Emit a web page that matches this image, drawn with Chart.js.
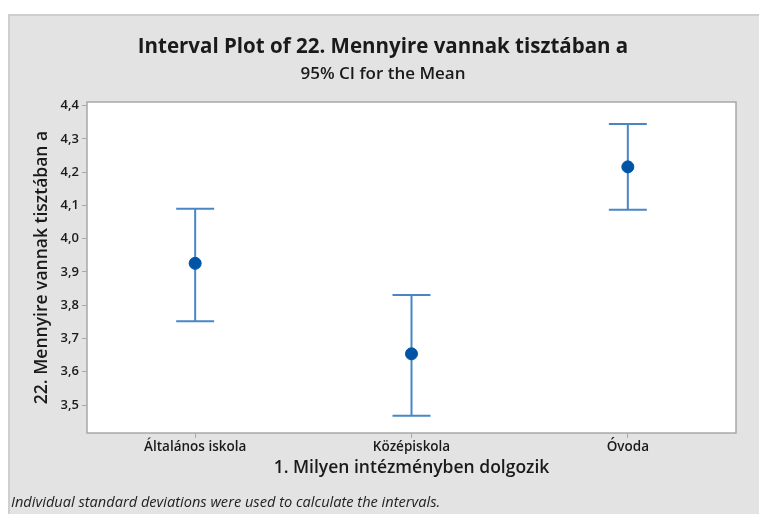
<!DOCTYPE html>
<html>
<head>
<meta charset="utf-8">
<script src="https://cdn.jsdelivr.net/npm/chart.js@4.4.0/dist/chart.umd.min.js"></script>
<style>
  html, body { margin: 0; padding: 0; background: #fff; }
  #wrap {
    position: absolute; left: 8px; top: 14px;
    width: 751px; height: 500px;
    background: #e3e3e3;
    border-left: 2px solid #cfcfcf; border-top: 2px solid #cfcfcf;
    box-sizing: border-box;
  }
  canvas { display: block; }
</style>
</head>
<body>
<div id="wrap"><canvas id="c" width="749" height="498"></canvas></div>
<script>
const categories = ["Általános iskola", "Középiskola", "Óvoda"];
const means = [3.926, 3.654, 4.216];
const lower = [3.752, 3.468, 4.087];
const upper = [4.090, 3.831, 4.345];
const yTicks = [3.5, 3.6, 3.7, 3.8, 3.9, 4.0, 4.1, 4.2, 4.3, 4.4];
const yTickLabels = ["3,5", "3,6", "3,7", "3,8", "3,9", "4,0", "4,1", "4,2", "4,3", "4,4"];
const footnote = "Individual standard deviations were used to calculate the intervals.";

const FONT = "'Open Sans', 'Noto Sans', sans-serif";
const lineColor = "#4a86c5";
const dotColor = "#0054a6";

// white plot area + frame + interval whiskers
const intervalPlugin = {
  id: "intervals",
  beforeDraw(chart) {
    const { ctx, chartArea: a } = chart;
    ctx.save();
    ctx.fillStyle = "#ffffff";
    ctx.fillRect(a.left, a.top, a.right - a.left, a.bottom - a.top);
    ctx.restore();
  },
  beforeDatasetsDraw(chart) {
    const { ctx, scales } = chart;
    const x = scales.x, y = scales.y;
    ctx.save();
    ctx.strokeStyle = lineColor;
    ctx.lineWidth = 2;
    const cap = 19;
    categories.forEach((c, i) => {
      const px = x.getPixelForValue(i);
      const yl = y.getPixelForValue(lower[i]);
      const yu = y.getPixelForValue(upper[i]);
      ctx.beginPath();
      ctx.moveTo(px, yl); ctx.lineTo(px, yu);
      ctx.moveTo(px - cap, yu); ctx.lineTo(px + cap, yu);
      ctx.moveTo(px - cap, yl); ctx.lineTo(px + cap, yl);
      ctx.stroke();
    });
    ctx.restore();
  },
  afterDraw(chart) {
    const { ctx, chartArea: a } = chart;
    ctx.save();
    ctx.strokeStyle = "#a8a8a8";
    ctx.lineWidth = 1.5;
    ctx.strokeRect(a.left, a.top, a.right - a.left, a.bottom - a.top);
    ctx.fillStyle = "#222";
    ctx.font = "italic 14.6px " + FONT;
    ctx.textBaseline = "middle";
    ctx.textAlign = "left";
    ctx.fillText(footnote, 1, 487);
    ctx.restore();
  }
};

new Chart(document.getElementById("c"), {
  type: "scatter",
  data: {
    datasets: [{
      data: means.map((m, i) => ({ x: i, y: m })),
      pointRadius: 6,
      pointHoverRadius: 6,
      pointBackgroundColor: dotColor,
      pointBorderColor: dotColor,
      showLine: false
    }]
  },
  options: {
    responsive: false,
    animation: false,
    events: [],
    layout: { padding: { left: 20, right: 23, top: 0, bottom: 29 } },
    plugins: {
      legend: { display: false },
      tooltip: { enabled: false },
      title: {
        display: true,
        text: "Interval Plot of 22. Mennyire vannak tisztában a",
        color: "#1a1a1a",
        font: { family: FONT, size: 20.5, weight: "bold" },
        padding: { top: 19, bottom: 0 }
      },
      subtitle: {
        display: true,
        text: "95% CI for the Mean",
        color: "#1a1a1a",
        font: { family: FONT, size: 17, weight: "600" },
        padding: { top: 4, bottom: 18 }
      }
    },
    scales: {
      x: {
        type: "linear",
        min: -0.5,
        max: 2.5,
        afterBuildTicks(s) { s.ticks = categories.map((c, i) => ({ value: i })); },
        afterFit(s) { s.height = 52; },
        ticks: {
          autoSkip: false,
          maxRotation: 0,
          padding: 1,
          color: "#1a1a1a",
          font: { family: FONT, size: 13.5, weight: "600" },
          callback: (v) => categories[v]
        },
        grid: { drawOnChartArea: false, tickLength: 5, color: "#a8a8a8" },
        border: { display: false },
        title: {
          display: true,
          text: "1. Milyen intézményben dolgozik",
          color: "#1a1a1a",
          font: { family: FONT, size: 17.5, weight: "600" },
          padding: { top: 0, bottom: 6 }
        }
      },
      y: {
        min: 3.416,
        max: 4.411,
        afterBuildTicks(s) { s.ticks = yTicks.map(v => ({ value: v })); },
        afterFit(s) { s.width = 57; },
        ticks: {
          padding: 3,
          color: "#1a1a1a",
          font: { family: FONT, size: 13, weight: "600" },
          callback: (v) => yTickLabels[yTicks.findIndex(t => Math.abs(t - v) < 1e-6)]
        },
        grid: { drawOnChartArea: false, tickLength: 5, color: "#a8a8a8" },
        border: { display: false },
        title: {
          display: true,
          text: "22. Mennyire vannak tisztában a",
          color: "#1a1a1a",
          font: { family: FONT, size: 17.5, weight: "600" },
          padding: { top: 2, bottom: 0 }
        }
      }
    }
  },
  plugins: [intervalPlugin]
});
</script>
</body>
</html>
